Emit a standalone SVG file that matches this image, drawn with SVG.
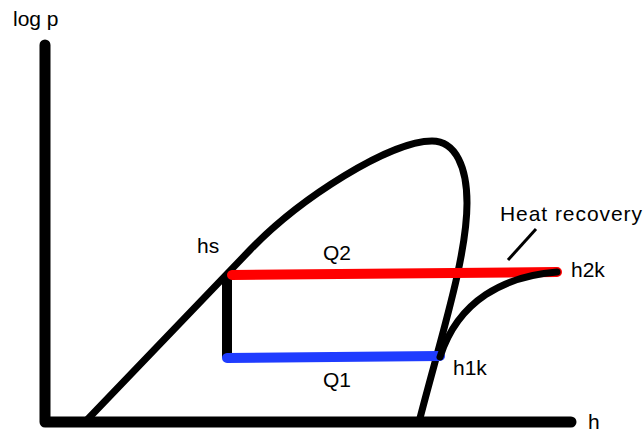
<svg xmlns="http://www.w3.org/2000/svg" width="643" height="432" viewBox="0 0 643 432">
<style>
.lbl{font-family:"Liberation Sans",Arial,sans-serif;font-size:21px;fill:#000}
.k{fill:none;stroke:#000;stroke-linecap:round;stroke-linejoin:round}
</style>
<rect width="643" height="432" fill="#fff"/>
<g id="axes">
<path class="k" d="M45 45 L45 422 L571 422" stroke-width="11"/>
</g>
<g id="dome">
<path class="k" d="M85 422 L250 250 C300 198 390 141 432 141 C456 141 467 168 467 203 C467 258 440 340 419 422" stroke-width="7"/>
</g>
<g id="connectors">
<line x1="227" y1="275" x2="227" y2="358" stroke="#000" stroke-width="10"/>
<line x1="232" y1="275" x2="557" y2="272" stroke="#ff0000" stroke-width="10" stroke-linecap="round"/>
<line x1="227" y1="358" x2="440" y2="356" stroke="#1f3cff" stroke-width="10" stroke-linecap="round"/>
<path class="k" d="M440 357 C458 300 505 276 557 272" stroke-width="7"/>
<line x1="508" y1="260" x2="536" y2="229" stroke="#000" stroke-width="3"/>
</g>
<g id="labels">
<text class="lbl" x="13" y="26">log p</text>
<text class="lbl" x="197" y="253">hs</text>
<text class="lbl" x="323" y="260">Q2</text>
<text class="lbl" x="323" y="387">Q1</text>
<text class="lbl" x="453" y="375">h1k</text>
<text class="lbl" x="571" y="277">h2k</text>
<text class="lbl" x="500" y="221" textLength="142">Heat recovery</text>
<text class="lbl" x="588" y="429">h</text>
</g>
</svg>
